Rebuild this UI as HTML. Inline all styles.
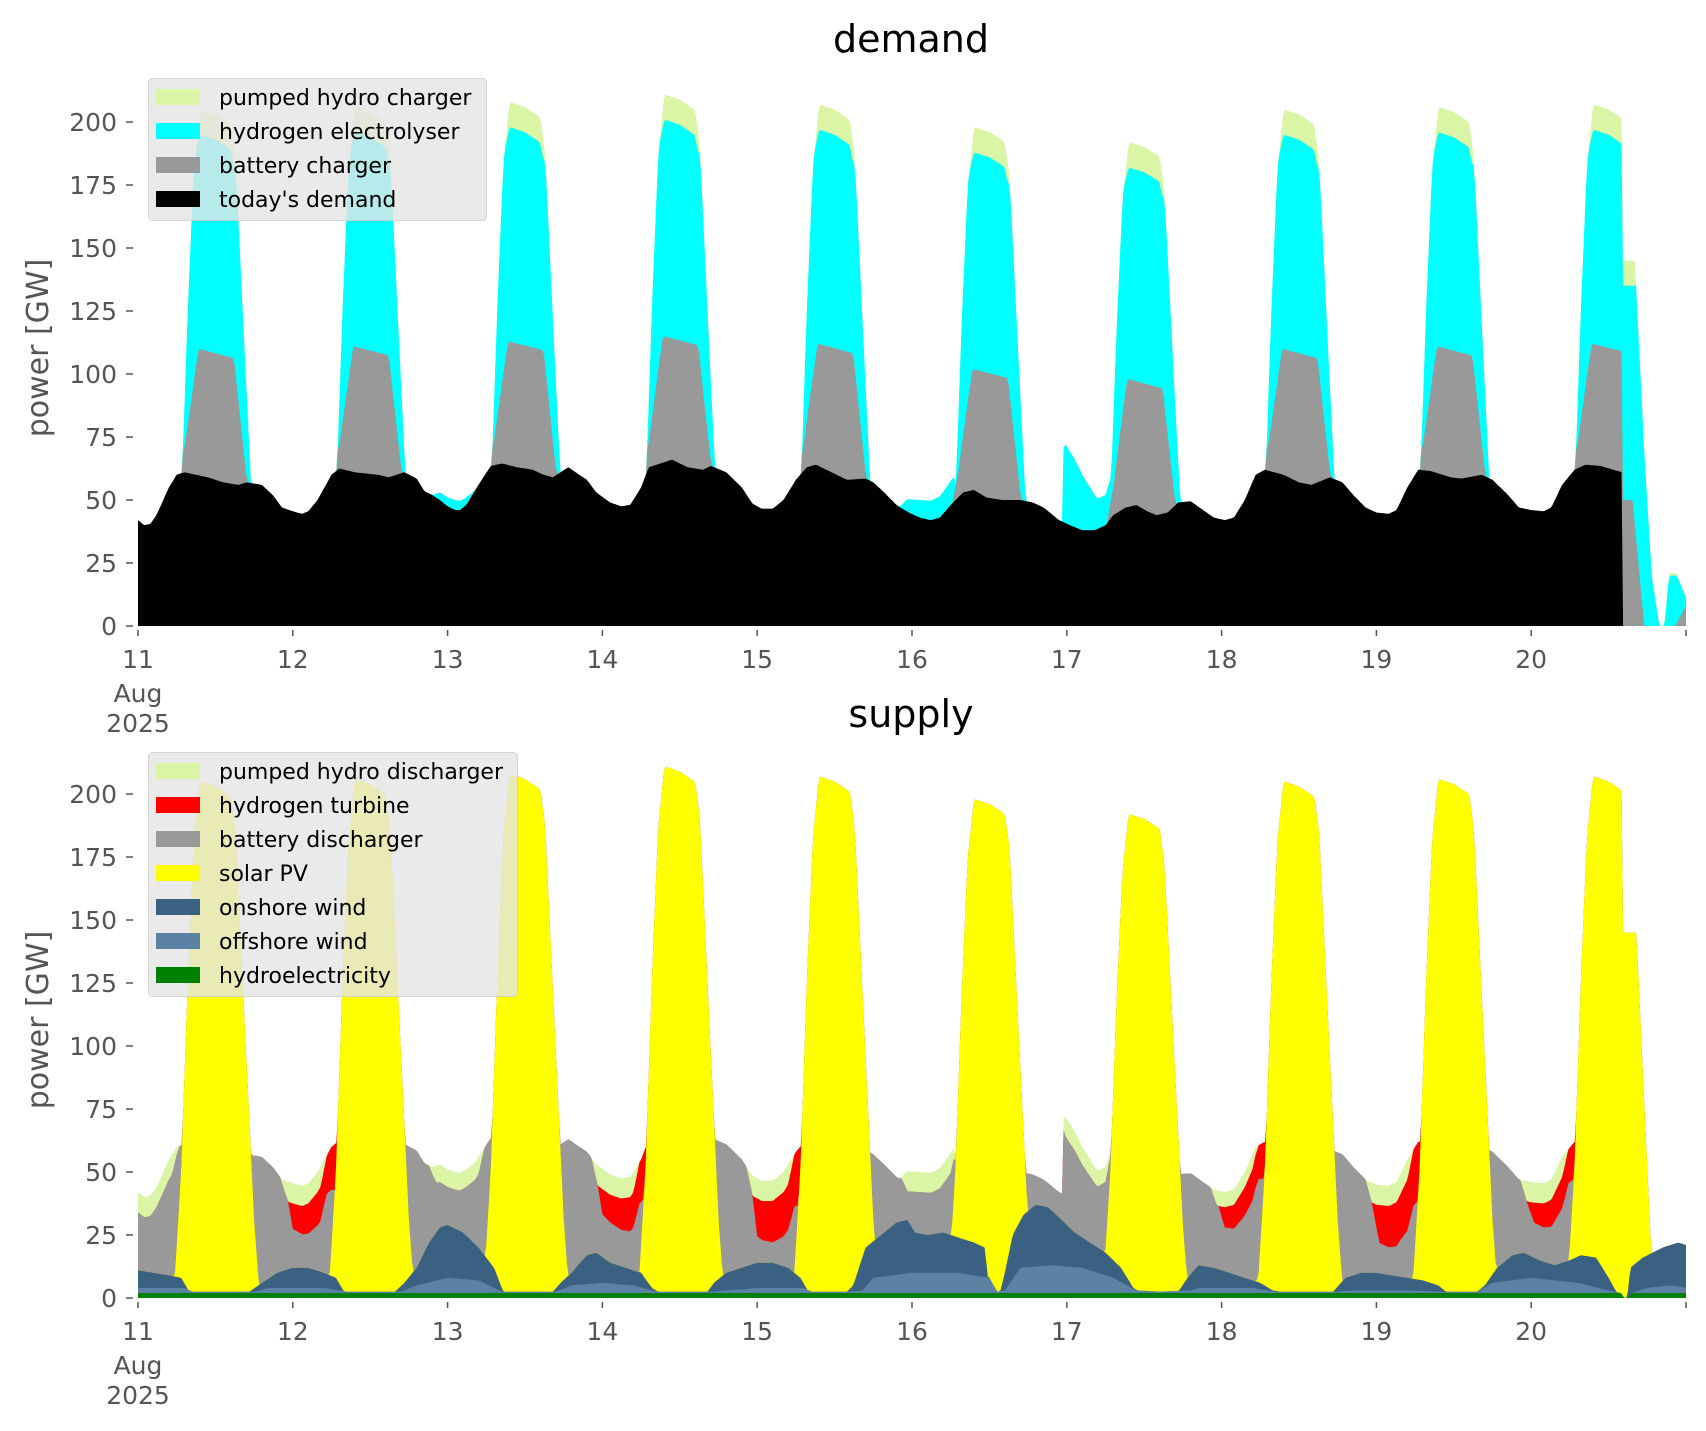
<!DOCTYPE html>
<html><head><meta charset="utf-8"><style>
html,body{margin:0;padding:0;background:#fff;}
svg{display:block;font-family:"DejaVu Sans","Liberation Sans",sans-serif;}
</style></head><body>
<svg id="s" width="1706" height="1431" viewBox="0 0 1706 1431" xmlns="http://www.w3.org/2000/svg">
<g id="dem"></g><g id="sup"></g><g id="ax"></g>
</svg>
<script>
function ip(p,t){if(t<=p[0][0])return p[0][1];for(var i=1;i<p.length;i++){if(t<=p[i][0]){var a=p[i-1],b=p[i];if(b[0]==a[0])return b[1];return a[1]+(b[1]-a[1])*(t-a[0])/(b[0]-a[0]);}}return p[p.length-1][1];}
var X=function(t){return 138+154.8*(t-11);};
var Dp=[[11,42],[11.04,40],[11.08,40.5],[11.12,44],[11.2,55],[11.25,60],[11.3,61],[11.45,59],[11.55,57],[11.65,56],[11.7,57],[11.8,56],[11.87,52],[11.93,47],[12,45.5],[12.06,44.5],[12.1,45.5],[12.16,50],[12.25,60],[12.3,62.5],[12.4,61],[12.55,60],[12.62,59],[12.72,61],[12.8,58.5],[12.85,53.5],[12.9,52],[12.95,50],[13,47.5],[13.05,46],[13.08,46],[13.12,48],[13.22,58],[13.28,63.5],[13.35,64.5],[13.45,63],[13.55,62],[13.62,60],[13.68,59],[13.78,63],[13.85,60],[13.9,58],[13.96,53],[14.05,49],[14.12,47.5],[14.18,48],[14.25,55],[14.3,63],[14.45,66],[14.55,63],[14.65,62],[14.7,63.5],[14.8,61],[14.9,55],[14.97,48.5],[15.03,46.5],[15.1,46.5],[15.17,50],[15.25,58],[15.32,63],[15.38,64],[15.48,61],[15.58,58],[15.7,58.5],[15.75,57],[15.82,53],[15.9,48],[15.98,45],[16.05,43],[16.12,42],[16.18,43],[16.25,48],[16.33,53],[16.4,54],[16.48,51],[16.58,50],[16.7,50],[16.78,49],[16.85,47],[16.95,42],[17.02,40],[17.1,38],[17.18,38],[17.25,40],[17.3,44],[17.38,47],[17.45,48],[17.52,45.5],[17.58,44],[17.65,45],[17.72,49],[17.8,49.5],[17.88,46],[17.95,43],[18.02,42],[18.08,43],[18.15,50],[18.22,60],[18.28,62],[18.4,60],[18.5,57],[18.58,56],[18.7,59],[18.78,57],[18.85,52],[18.93,47],[19,45],[19.08,44.5],[19.13,46],[19.2,55],[19.27,62],[19.35,61.5],[19.48,59],[19.55,58.5],[19.68,60],[19.75,58],[19.85,52],[19.92,47],[20,46],[20.08,45.5],[20.13,47],[20.2,56],[20.28,62],[20.35,64],[20.45,63.5],[20.53,62],[20.59,61]];
var Xp=[[12.9,0],[12.95,3],[13.05,4],[13.12,3],[13.18,0],[15.92,0],[15.97,5],[16.05,7],[16.15,8],[16.22,9],[16.27,10],[16.3,0],[16.97,0],[16.98,32],[17.05,27],[17.12,20],[17.2,12],[17.25,12],[17.3,18],[17.35,15],[17.4,0]];
var OFF=[[11,4],[11.3,4],[11.35,2.5],[11.75,2.5],[11.85,4],[12.2,4],[12.35,2.5],[12.7,2.5],[12.8,5],[13,8],[13.2,7],[13.35,2.5],[13.7,2.5],[13.8,5],[14,6],[14.2,5],[14.35,2.5],[14.7,2.5],[15,4],[15.3,4],[15.35,2.5],[15.6,2.5],[15.68,3],[15.75,8],[16,10],[16.3,10],[16.5,8],[16.55,2.5],[16.6,3],[16.7,12],[16.9,13],[17.1,12],[17.3,8],[17.45,3],[17.6,2.5],[17.8,3],[17.85,4],[18.2,4],[18.35,2.5],[18.75,2.5],[18.85,3],[19.2,3],[19.4,2.5],[19.65,2.5],[19.75,6],[20,8],[20.3,6],[20.5,3],[20.58,2],[20.6,0],[20.62,0],[20.65,2],[20.75,4],[20.9,5],[21,4]];
var ON=[[11,11],[11.1,10],[11.2,9],[11.28,8],[11.33,2.5],[11.72,2.5],[11.8,6],[11.9,10],[12,12],[12.1,12],[12.2,10],[12.28,8],[12.33,2.5],[12.66,2.5],[12.72,6],[12.8,12],[12.88,22],[12.95,28],[13,29],[13.1,26],[13.2,20],[13.3,12],[13.36,2.5],[13.68,2.5],[13.73,6],[13.8,10],[13.9,17],[13.96,18],[14.05,14],[14.15,12],[14.25,10],[14.32,4],[14.36,2.5],[14.68,2.5],[14.72,6],[14.8,10],[14.9,12],[15,14],[15.1,14],[15.2,12],[15.28,8],[15.33,2.5],[15.58,2.5],[15.62,5],[15.7,20],[15.8,25],[15.9,30],[15.97,31],[16.02,26],[16.1,25],[16.2,26],[16.3,24],[16.4,22],[16.47,20],[16.5,2.5],[16.57,2.5],[16.6,10],[16.65,25],[16.72,33],[16.8,37],[16.88,36],[16.95,32],[17.05,26],[17.15,22],[17.25,18],[17.35,12],[17.43,4],[17.47,2.5],[17.72,2.5],[17.78,8],[17.85,13],[17.95,12],[18.05,10],[18.15,8],[18.25,6],[18.33,3],[18.38,2.5],[18.72,2.5],[18.8,8],[18.9,10],[19,10],[19.1,9],[19.2,8],[19.3,7],[19.4,5],[19.45,2.5],[19.65,2.5],[19.7,5],[19.78,12],[19.88,17],[19.95,18],[20.05,15],[20.15,13],[20.25,15],[20.32,17],[20.42,16],[20.5,8],[20.55,2.5],[20.58,1],[20.6,0],[20.62,0],[20.64,12],[20.72,16],[20.85,20],[20.95,22],[21,21]];
var SS=[[0,0],[0.2,0],[0.24,0.05],[0.28,0.25],[0.32,0.6],[0.36,0.88],[0.4,1],[0.5,0.99],[0.6,0.97],[0.63,0.9],[0.67,0.65],[0.71,0.4],[0.75,0.15],[0.78,0.03],[0.8,0],[1,0]];
var GS=[[0,0],[0.26,0],[0.3,0.2],[0.34,0.55],[0.39,1],[0.62,0.93],[0.65,0.6],[0.7,0.05],[0.71,0],[1,0]];
var PHD=[[0,0],[0.37,0],[0.4,10],[0.61,10],[0.64,0],[1,0]];
var P={11:205,12:206,13:208,14:211,15:207,16:198,17:192,18:205,19:206,20:207};
var GT={11:110,12:111,13:113,14:115,15:112,16:102,17:98,18:110,19:111,20:112};
var PHS=[[10.9,0],[11,8],[11.22,8],[11.27,0],[11.92,0],[11.97,8],[12.18,8],[12.22,0],[12.88,0],[12.93,7],[13.2,7],[13.24,0],[13.93,0],[13.97,8],[14.2,8],[14.24,0],[14.93,0],[14.97,8],[15.2,8],[15.24,0],[15.93,0],[15.97,8],[16.25,8],[16.29,0],[16.97,0],[16.99,8],[17.25,6],[17.3,0],[17.93,0],[17.97,6],[18.2,6],[18.24,0],[18.93,0],[18.97,8],[19.2,8],[19.24,0],[19.93,0],[19.97,8],[20.2,8],[20.24,0],[21,0]];
var RDS=[[11,0],[11.97,0],[12,10],[12.1,12],[12.2,14],[12.3,20],[12.33,0],[13.97,0],[14,10],[14.2,14],[14.3,20],[14.33,0],[14.97,0],[15,15],[15.2,18],[15.3,25],[15.33,0],[17.98,0],[18.02,8],[18.3,15],[18.33,0],[18.97,0],[19.02,15],[19.15,18],[19.3,25],[19.33,0],[19.97,0],[20.02,8],[20.3,15],[20.33,0],[21,0]];
var TD20=[[20.59,145],[20.67,145],[20.73,70],[20.78,20],[20.83,0],[20.86,0],[20.89,21],[20.94,21],[21,12]];
var GD20=[[20.59,50],[20.655,50],[20.73,0],[20.93,0],[21,8]];
var TS20=[[20.59,145],[20.68,145],[20.72,90],[20.77,25],[20.8,0],[21,0]];
var dem=[[],[],[],[]], sup=[[],[],[],[],[],[],[]], ts=[];
var N=960;
for(var k=0;k<=N;k++){
  var t=11+10*k/N; if(k==N)t=21;
  var d=Math.floor(t); if(d>20)d=20; var f=t-d;
  var H=2, Of=ip(OFF,t), W=Math.max(ip(ON,t),Of);
  var Dv,T,S,g,pd,R0,ph,rd,gr;
  if(t<20.59){
    Dv=ip(Dp,t); var ST=P[d]*ip(SS,f); S=Math.max(0,ST-W);
    T=Math.max(Dv+ip(Xp,t),W+S);
    var E=T-Dv; g=Math.min(E,Math.max(0,ip(GS,f)*(GT[d]-Dv)));
    pd=Math.min(ip(PHD,f),E-g);
    dem[0].push(Dv);dem[1].push(Dv+g);dem[2].push(T-pd);dem[3].push(T);
    R0=Math.max(0,T-W-S); ph=Math.min(ip(PHS,t),R0); rd=Math.min(ip(RDS,t),R0-ph); gr=R0-ph-rd;
  } else {
    var Td=ip(TD20,t); g=Math.min(Td,ip(GD20,t)); pd=(t<20.67)?10:Math.min(1,Td-g);
    dem[0].push(0);dem[1].push(g);dem[2].push(Math.max(g,Td-pd));dem[3].push(Math.max(g,Td));
    var Ts=ip(TS20,t); S=Math.max(0,Ts-W); T=W+S; gr=0;rd=0;ph=0;
  }
  sup[0].push(Math.min(H,Of));sup[1].push(Of);sup[2].push(W);sup[3].push(W+S);sup[4].push(W+S+gr);sup[5].push(W+S+gr+rd);sup[6].push(W+S+gr+rd+ph);
  ts.push(t);
}
function area(arr,y0,col){
  var s='M'+X(11).toFixed(1)+' '+y0;
  for(var i=0;i<arr.length;i++){s+='L'+X(ts[i]).toFixed(1)+' '+(y0-2.52*arr[i]).toFixed(1);}
  s+='L'+X(21).toFixed(1)+' '+y0+'Z';
  return '<path d="'+s+'" fill="'+col+'"/>';
}
var dc=['#000000','#999999','#00ffff','#d9f5a5'];
var h='';for(var i=3;i>=0;i--)h+=area(dem[i],626,dc[i]);
document.getElementById('dem').innerHTML=h;
var sc=['#008000','#5b82a3','#3b6182','#ffff00','#999999','#ff0000','#d9f5a5'];
h='';for(var i=6;i>=0;i--)h+=area(sup[i],1298,sc[i]);
document.getElementById('sup').innerHTML=h;
var a='';
function axes(y0,title,ty,labelY){
  for(var v=0;v<=200;v+=25){var y=y0-2.52*v;
    a+='<line x1="126" x2="133" y1="'+y+'" y2="'+y+'" stroke="#555" stroke-width="1.5"/>';
    a+='<text x="117" y="'+(y+9)+'" font-size="25" fill="#555" text-anchor="end">'+v+'</text>';}
  for(var dd=11;dd<=21;dd++){var x=X(dd);
    a+='<line x1="'+x+'" x2="'+x+'" y1="'+(y0+4)+'" y2="'+(y0+10)+'" stroke="#555" stroke-width="1.5"/>';
    if(dd<=20)a+='<text x="'+x+'" y="'+(y0+42)+'" font-size="25" fill="#555" text-anchor="middle">'+dd+'</text>';}
  a+='<text x="138" y="'+(y0+76)+'" font-size="25" fill="#555" text-anchor="middle">Aug</text>';
  a+='<text x="138" y="'+(y0+106)+'" font-size="25" fill="#555" text-anchor="middle">2025</text>';
  a+='<text x="911" y="'+ty+'" font-size="38" fill="#000" text-anchor="middle">'+title+'</text>';
  a+='<text transform="translate(48 '+labelY+') rotate(-90)" font-size="30" fill="#555" text-anchor="middle">power [GW]</text>';
}
axes(626,'demand',52,348);
axes(1298,'supply',727,1020);
function legend(y,w,items){
  var hgt=items.length*34+6;
  a+='<rect x="148.5" y="'+(y+0.5)+'" width="'+w+'" height="'+hgt+'" rx="4" fill="#e5e5e5" fill-opacity="0.8" stroke="#cccccc" stroke-opacity="0.8"/>';
  for(var i=0;i<items.length;i++){var cy=y+19+34*i;
    a+='<rect x="156" y="'+(cy-8)+'" width="44" height="16" fill="'+items[i][1]+'"/>';
    a+='<text x="219" y="'+(cy+8)+'" font-size="22" fill="#000">'+items[i][0]+'</text>';}
}
legend(78,338,[['pumped hydro charger','#d9f5a5'],['hydrogen electrolyser','#00ffff'],['battery charger','#999999'],["today's demand",'#000000']]);
legend(752,369,[['pumped hydro discharger','#d9f5a5'],['hydrogen turbine','#ff0000'],['battery discharger','#999999'],['solar PV','#ffff00'],['onshore wind','#3b6182'],['offshore wind','#5b82a3'],['hydroelectricity','#008000']]);
document.getElementById('ax').innerHTML=a;
</script>
</body></html>
